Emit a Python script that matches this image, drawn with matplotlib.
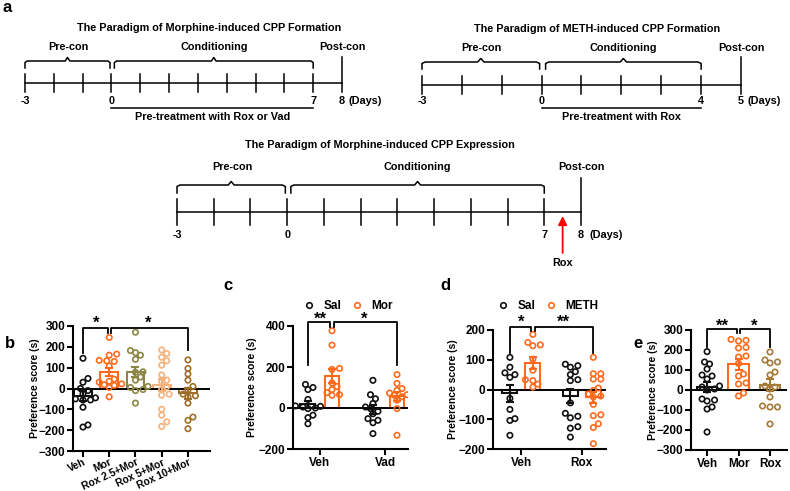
import numpy as np
import matplotlib
matplotlib.use('Agg')
import matplotlib.pyplot as plt
from matplotlib.lines import Line2D

plt.rcParams['font.family'] = ['Liberation Sans', 'DejaVu Sans']
plt.rcParams['font.weight'] = 'bold'
plt.rcParams['axes.labelweight'] = 'bold'

# ---------------- data ----------------
BLACK = '#111111'
ORANGE = '#FF6A1C'
OLIVE = '#8C8644'
PEACH = '#F6B27C'
BROWN = '#9E6E28'
BROWN_E = '#A47A36'

b_groups = ["Veh", "Mor", "Rox 2.5+Mor", "Rox 5+Mor", "Rox 10+Mor"]
b_veh = [145, 48, 30, 0, -10, -25, -45, -50, -55, -55, -40, -90, -175, -185]
b_mor = [245, 165, 160, 135, 133, 130, 108, 45, 35, 30, 22, 18, 15, 5, -40]
b_rox25 = [270, 182, 172, 160, 140, 80, 78, 55, 40, 10, 5, -5, -10, -70]
b_rox5 = [185, 168, 150, 133, 112, 65, 40, 32, 8, -5, -27, -32, -100, -128, -160, -182]
b_rox10 = [137, 96, 70, 40, 10, -8, -27, -35, -40, -70, -137, -153, -193]

c_groups = ["Veh", "Vad"]
c_sal_veh = [115, 100, 90, 42, 10, 8, 5, 0, -3, -35, -47, -77]
c_mor_veh = [377, 307, 193, 188, 122, 105, 90, 75, 65, 62]
c_sal_vad = [135, 65, 45, 22, 5, -3, -16, -28, -52, -60, -72, -125]
c_mor_vad = [163, 120, 95, 86, 73, 65, 62, 55, 38, -3, -133]

d_groups = ["Veh", "Rox"]
d_sal_veh = [108, 75, 56, 50, 41, -30, -67, -98, -104, -154]
d_meth_veh = [185, 158, 150, 147, 102, 65, 33, 30, 18, 8]
d_sal_rox = [85, 80, 75, 60, 50, 33, 30, -45, -80, -90, -95, -125, -130, -160]
d_meth_rox = [108, 53, 53, 35, 35, 5, -3, -15, -22, -25, -50, -85, -88, -115, -128, -182]

e_groups = ["Veh", "Mor", "Rox"]
e_veh = [192, 140, 130, 105, 75, 70, 55, 20, 15, 5, 0, -45, -50, -55, -85, -95, -210]
e_mor = [253, 245, 248, 213, 210, 170, 165, 133, 80, 70, 35, 30, -15, -30]
e_rox = [190, 150, 140, 135, 90, 75, 20, 15, 5, -35, -80, -85, -85, -170]

# ---------------- figure ----------------
W, H = 790, 491
fig = plt.figure(figsize=(W / 100, H / 100), dpi=100)


def ax_px(l, t, r, b):
    return fig.add_axes([l / W, 1 - b / H, (r - l) / W, (b - t) / H])


LW_T = 1.1
FS_T = 7.8


def brace(ax, x0, x1, ybot, ytop, color='black'):
    xm = (x0 + x1) / 2
    d = 0.08
    xs = [x0, x0, x0 + d, xm - d, xm, xm + d, x1 - d, x1, x1]
    ys = [ybot, ytop + 1.5, ytop, ytop, ytop - 3.5, ytop, ytop, ytop + 1.5, ybot]
    ax.plot(xs, ys, color=color, lw=LW_T, clip_on=False, solid_joinstyle='round')


def timeline(l, r, day_lo, day_cond, day_post, y_line, t_top, t_bot, post_top,
             br_bot, br_top, lab_y, title, title_x, title_y, day_y, pre_text=None,
             pre_y=None, arrow=None):
    ax = ax_px(l, 0, r, H)
    ax.set_xlim(day_lo, day_post)
    ax.set_ylim(H, 0)
    ax.axis('off')
    ax.plot([day_lo, day_post], [y_line, y_line], color='black', lw=LW_T, clip_on=False)
    for dday in range(day_lo, day_cond + 1):
        ax.plot([dday, dday], [t_top, t_bot], color='black', lw=LW_T, clip_on=False)
    ax.plot([day_post, day_post], [post_top, t_bot], color='black', lw=LW_T, clip_on=False)
    brace(ax, day_lo, -0.05, br_bot, br_top)
    brace(ax, 0.1, day_cond, br_bot, br_top)
    ax.text(day_lo / 2, lab_y, "Pre-con", ha='center', va='center', fontsize=FS_T)
    ax.text((0.1 + day_cond) / 2, lab_y, "Conditioning", ha='center', va='center', fontsize=FS_T)
    ax.text(day_post, lab_y, "Post-con", ha='center', va='center', fontsize=FS_T)
    ax.text(title_x, title_y, title, ha='center', va='center', fontsize=FS_T)
    for dday in [day_lo, 0, day_cond, day_post]:
        ax.text(dday, day_y, str(dday), ha='center', va='center', fontsize=FS_T)
    ax.text(day_post + 0.22 * (day_post - day_lo) / 11, day_y, "(Days)", ha='left', va='center', fontsize=FS_T)
    if pre_text:
        ax.plot([0, day_cond], [pre_y, pre_y], color='black', lw=LW_T)
        ax.text(day_cond / 2, pre_y + 9, pre_text, ha='center', va='center', fontsize=FS_T)
    if arrow is not None:
        ax.annotate('', xy=(arrow, y_line + 4), xytext=(arrow, y_line + 41),
                    arrowprops=dict(arrowstyle='-|>', color='red', lw=1.3, mutation_scale=13,
                                    shrinkA=0, shrinkB=0))
        ax.text(arrow, y_line + 51, "Rox", ha='center', va='center', fontsize=FS_T)
    return ax


timeline(25, 342, -3, 7, 8, 83, 74, 92, 57, 68, 61, 47,
         "The Paradigm of Morphine-induced CPP Formation", 3.4, 28, 101,
         "Pre-treatment with Rox or Vad", 108)
timeline(422, 741, -3, 4, 5, 85, 76, 94, 57, 69, 62, 48,
         "The Paradigm of METH-induced CPP Formation", 1.4, 29, 101,
         "Pre-treatment with Rox", 108)
timeline(177, 581, -3, 7, 8, 212, 199, 225, 178, 193, 185, 167,
         "The Paradigm of Morphine-induced CPP Expression", 2.52, 145, 235,
         arrow=7.5)

# ---------------- bar/scatter helpers ----------------
DIAM = 5.0


def swarm(ax, xc, vals):
    vals = np.asarray(vals, float)
    order = np.argsort(vals)
    placed = []
    xs = np.zeros(len(vals))
    x0px = ax.transData.transform((xc, 0))[0]
    cands = [0.0]
    for k in range(1, 30):
        cands += [k * DIAM * 0.5, -k * DIAM * 0.5]
    inv = ax.transData.inverted()
    for i in order:
        ypx = ax.transData.transform((xc, vals[i]))[1]
        for off in cands:
            if all((x0px + off - px) ** 2 + (ypx - py) ** 2 >= (DIAM * 1.05) ** 2 for px, py in placed):
                break
        placed.append((x0px + off, ypx))
        xs[i] = inv.transform((x0px + off, ypx))[0]
    return xs


def group(ax, x, vals, color, width):
    vals = np.asarray(vals, float)
    m = vals.mean()
    sem = vals.std(ddof=1) / np.sqrt(len(vals))
    ax.bar(x, m, width=width, facecolor='white', edgecolor=color, linewidth=1.5, zorder=2)
    xs = swarm(ax, x, vals)
    ax.scatter(xs, vals, s=15, facecolors='none', edgecolors=color, linewidths=1.2, zorder=3)
    ax.errorbar(x, m, yerr=sem, color=color, capsize=3, elinewidth=1.5, capthick=1.5, zorder=4)


def style(ax, xlim, ylim, yticks, label_dx):
    ax.set_xlim(*xlim)
    ax.set_ylim(*ylim)
    ax.set_yticks(yticks)
    for s in ['top', 'right']:
        ax.spines[s].set_visible(False)
    for s in ['left', 'bottom']:
        ax.spines[s].set_linewidth(1.5)
    ax.tick_params(width=1.5, length=4, labelsize=8.5, pad=1.5)
    ax.axhline(0, color='black', lw=1.4, zorder=2.5)
    ax.set_ylabel("Preference score (s)", fontsize=7.5)
    ax.yaxis.set_label_coords(label_dx, 0.5)


def bracket(ax, x1, x2, y, h1, h2):
    ax.plot([x1, x1, x2, x2], [h1, y, y, h2], color='black', lw=1.3, clip_on=False, zorder=5)


def star(ax, x, y, s):
    ax.text(x, y, s, ha='center', va='center', fontsize=12, clip_on=False)


def legend2(ax, colors, labels, anchor):
    hs = [Line2D([], [], marker='o', ls='none', mfc='none', mec=c, ms=4, mew=1.2) for c in colors]
    ax.legend(hs, labels, loc='center left', bbox_to_anchor=anchor, ncol=2,
              frameon=False, handlelength=0.9, handletextpad=0.75, columnspacing=0.9,
              borderaxespad=0, borderpad=0, fontsize=8.5)


# ---------------- panel b ----------------
axb = ax_px(73, 326, 210, 451)
style(axb, (-0.38, 4.84), (-300, 300), np.arange(-300, 301, 100), -0.24)
b_data = [b_veh, b_mor, b_rox25, b_rox5, b_rox10]
b_cols = [BLACK, ORANGE, OLIVE, PEACH, BROWN]
for i, (v, c) in enumerate(zip(b_data, b_cols)):
    group(axb, i, v, c, 0.68)
axb.set_xticks(range(len(b_groups)))
axb.set_xticklabels(b_groups, rotation=25, ha='right', rotation_mode='anchor', fontsize=7.4)
axb.tick_params(axis='x', pad=0.5)
bracket(axb, 0, 0.95, 290, 170, 265)
bracket(axb, 1.05, 4, 290, 265, 185)
star(axb, 0.5, 312, "*")
star(axb, 2.5, 312, "*")

# ---------------- panel c ----------------
axc = ax_px(293, 326, 408, 449)
style(axc, (-0.415, 1.354), (-200, 400), [-200, 0, 200, 400], -0.31)
off = 0.185
group(axc, 0 - off, c_sal_veh, BLACK, 0.23)
group(axc, 0 + off, c_mor_veh, ORANGE, 0.23)
group(axc, 1 - off, c_sal_vad, BLACK, 0.23)
group(axc, 1 + off, c_mor_vad, ORANGE, 0.23)
axc.set_xticks(range(len(c_groups)))
axc.set_xticklabels(c_groups)
bracket(axc, -off, off - 0.03, 421, 209, 395)
bracket(axc, off + 0.03, 1 + off, 421, 395, 209)
star(axc, 0.0, 432, "**")
star(axc, 0.685, 432, "*")
legend2(axc, [BLACK, ORANGE], ["Sal", "Mor"], (0.093, 1.163))

# ---------------- panel d ----------------
axd = ax_px(493, 330, 606, 449)
style(axd, (-0.47, 1.40), (-200, 200), [-200, -100, 0, 100, 200], -0.31)
off = 0.19
group(axd, 0 - off, d_sal_veh, BLACK, 0.25)
group(axd, 0 + off, d_meth_veh, ORANGE, 0.25)
group(axd, 1 - off, d_sal_rox, BLACK, 0.25)
group(axd, 1 + off, d_meth_rox, ORANGE, 0.25)
axd.set_xticks(range(len(d_groups)))
axd.set_xticklabels(d_groups)
bracket(axd, -off, off - 0.03, 209, 123, 195)
bracket(axd, off + 0.03, 1 + off, 209, 195, 123)
star(axd, 0.0, 226, "*")
star(axd, 0.7, 226, "**")
legend2(axd, [BLACK, ORANGE], ["Sal", "METH"], (0.042, 1.20))

# ---------------- panel e ----------------
axe = ax_px(691, 330, 787, 450)
style(axe, (-0.51, 2.54), (-300, 300), np.arange(-300, 301, 100), -0.34)
e_data = [e_veh, e_mor, e_rox]
e_cols = [BLACK, ORANGE, BROWN_E]
for i, (v, c) in enumerate(zip(e_data, e_cols)):
    group(axe, i, v, c, 0.66)
axe.set_xticks(range(len(e_groups)))
axe.set_xticklabels(e_groups)
bracket(axe, 0, 0.95, 303, 217, 285)
bracket(axe, 1.05, 2, 303, 285, 217)
star(axe, 0.5, 320, "**")
star(axe, 1.5, 320, "*")

# ---------------- panel letters ----------------
for s, x, y in [("a", 7, 7), ("b", 10, 343), ("c", 228, 286), ("d", 445, 286), ("e", 638, 343)]:
    fig.text(x / W, 1 - y / H, s, fontsize=12, fontweight='bold', ha='center', va='center')

fig.savefig("out.png", dpi=100)
